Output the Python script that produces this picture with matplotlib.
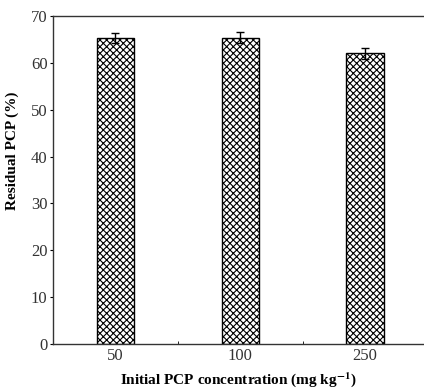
#!/usr/bin/env python3

"""Residual PCP bar chart."""

import matplotlib
matplotlib.use("Agg")
import matplotlib.pyplot as plt
from matplotlib.ticker import FixedLocator

concentrations = ["50", "100", "250"]
residual = [65.3, 65.4, 62.0]
residual_err = [1.0, 1.1, 1.1]
yticks = [0, 10, 20, 30, 40, 50, 60, 70]

plt.rcParams["font.family"] = "Liberation Serif"
plt.rcParams["mathtext.fontset"] = "stix"
plt.rcParams["hatch.linewidth"] = 0.8

fig = plt.figure(figsize=(4.24, 3.90), dpi=100)
ax = fig.add_axes([53 / 424, 1 - 344 / 390, 374.5 / 424, 328 / 390])

pos = list(range(len(concentrations)))
ax.bar(pos, residual, width=0.3, color="white", edgecolor="black",
       hatch="xxxxx", linewidth=1.0, zorder=2)
ax.errorbar(pos, residual, yerr=residual_err, fmt="none", ecolor="black",
            elinewidth=1.0, capsize=3, capthick=1.0, zorder=3)

ax.set_xlim(-0.5, 2.5)
ax.set_ylim(0, 70)
ax.set_xticks(pos)
ax.set_xticklabels(concentrations)
ax.xaxis.set_minor_locator(FixedLocator([0.5, 1.5]))
ax.set_yticks(yticks)

ax.spines["right"].set_visible(False)
for s in ["left", "top", "bottom"]:
    ax.spines[s].set_color("#333333")
    ax.spines[s].set_linewidth(1.0)

ax.tick_params(axis="y", direction="out", length=2, labelsize=12,
               labelcolor="#333333", pad=2)
ax.tick_params(axis="x", which="major", length=0, labelsize=12,
               labelcolor="#333333", pad=3)
ax.tick_params(axis="x", which="minor", direction="in", length=2)

ax.set_ylabel("Residual PCP (%)", fontsize=11, fontweight="bold")
ax.yaxis.set_label_coords(-0.091, 0.59)
ax.set_xlabel(r"Initial PCP concentration (mg kg$^{\mathbf{-1}}$)",
              fontsize=11, fontweight="bold")
ax.xaxis.set_label_coords(0.495, -0.08)

plt.savefig("out.png", dpi=100)
